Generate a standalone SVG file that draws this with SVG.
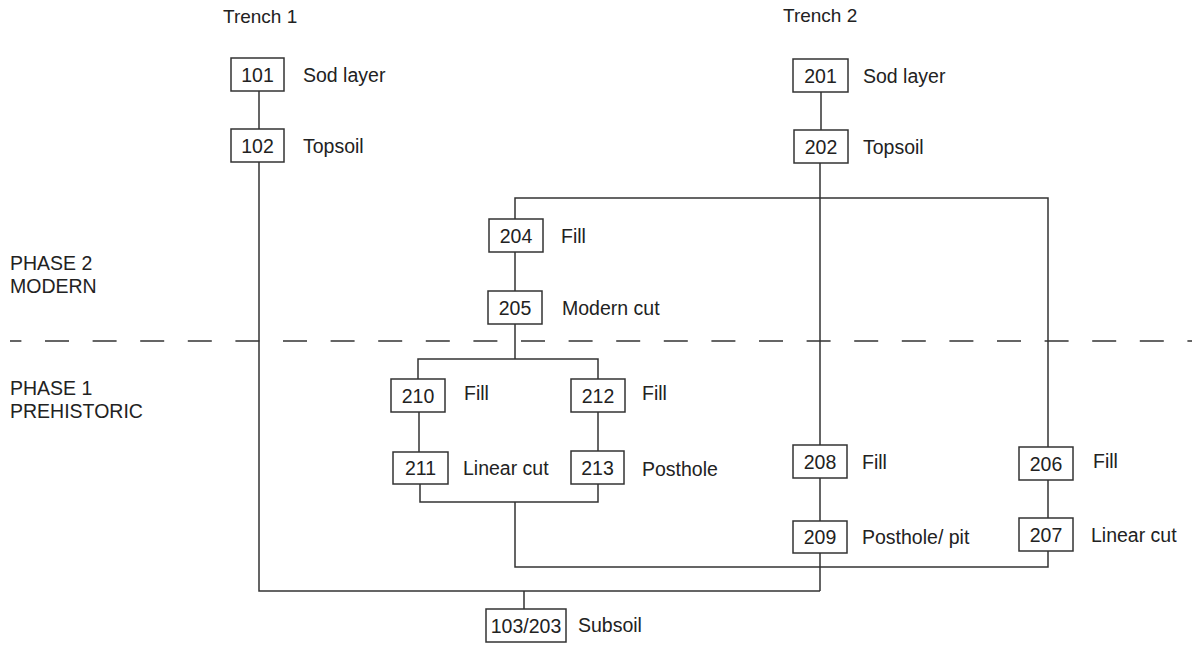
<svg xmlns="http://www.w3.org/2000/svg" width="1192" height="645" viewBox="0 0 1192 645">
<style>
text{font-family:"Liberation Sans",Arial,sans-serif;font-size:19.5px;fill:#222}
.num{text-anchor:middle}
.box{fill:#fff;stroke:#333;stroke-width:1.5}
.c{fill:none;stroke:#333;stroke-width:1.5}
.h{font-size:19px}
</style>
<rect width="1192" height="645" fill="#fff"/>
<line x1="10" y1="341" x2="1192" y2="341" stroke="#333" stroke-width="1.5" stroke-dasharray="24 23.6" stroke-dashoffset="12.6"/>
<g id="labels">
<text class="h" x="223" y="23">Trench 1</text>
<text class="h" x="783" y="22">Trench 2</text>
<text x="10" y="270">PHASE 2</text>
<text x="10" y="293">MODERN</text>
<text x="10" y="395">PHASE 1</text>
<text x="10" y="418">PREHISTORIC</text>
</g>
<g id="connectors">
<path class="c" d="M259 91V129M259 162V591H820M821 92V130M820 163V445"/>
<path class="c" d="M515 219V198H1048V447M515 252V291M515 324V359M418 379V359H598V379"/>
<path class="c" d="M419 412V452M598 412V451M420 484V502H598V484M515 502V567H1048V551"/>
<path class="c" d="M820 478V521M820 553V591M1048 480V518M524 591V609"/>
</g>
<g id="n101"><rect class="box" x="231" y="58" width="53" height="33"/><text class="num" x="257.5" y="82">101</text><text x="303" y="82">Sod layer</text></g>
<g id="n102"><rect class="box" x="231" y="129" width="53" height="33"/><text class="num" x="257.5" y="153">102</text><text x="303" y="153">Topsoil</text></g>
<g id="n201"><rect class="box" x="793" y="59" width="55" height="33"/><text class="num" x="820.5" y="83">201</text><text x="863" y="83">Sod layer</text></g>
<g id="n202"><rect class="box" x="794" y="130" width="54" height="33"/><text class="num" x="821" y="154">202</text><text x="863" y="154">Topsoil</text></g>
<g id="n204"><rect class="box" x="489" y="219" width="54" height="33"/><text class="num" x="516" y="243">204</text><text x="561" y="243">Fill</text></g>
<g id="n205"><rect class="box" x="488" y="291" width="54" height="33"/><text class="num" x="515" y="315">205</text><text x="562" y="315">Modern cut</text></g>
<g id="n210"><rect class="box" x="391" y="379" width="54" height="33"/><text class="num" x="418" y="403">210</text><text x="464" y="400">Fill</text></g>
<g id="n212"><rect class="box" x="571" y="379" width="54" height="33"/><text class="num" x="598" y="403">212</text><text x="642" y="400">Fill</text></g>
<g id="n211"><rect class="box" x="393" y="452" width="55" height="32"/><text class="num" x="420.5" y="475">211</text><text x="463" y="475">Linear cut</text></g>
<g id="n213"><rect class="box" x="571" y="451" width="53" height="33"/><text class="num" x="597.5" y="475">213</text><text x="642" y="476">Posthole</text></g>
<g id="n208"><rect class="box" x="793" y="445" width="54" height="33"/><text class="num" x="820" y="469">208</text><text x="862" y="469">Fill</text></g>
<g id="n209"><rect class="box" x="793" y="521" width="54" height="32"/><text class="num" x="820" y="544">209</text><text x="862" y="544">Posthole/ pit</text></g>
<g id="n206"><rect class="box" x="1019" y="447" width="54" height="33"/><text class="num" x="1046" y="471">206</text><text x="1093" y="468">Fill</text></g>
<g id="n207"><rect class="box" x="1019" y="518" width="54" height="33"/><text class="num" x="1046" y="542">207</text><text x="1091" y="542">Linear cut</text></g>
<g id="n103"><rect class="box" x="486" y="609" width="80" height="33"/><text class="num" x="526" y="633">103/203</text><text x="578" y="632">Subsoil</text></g>
</svg>
